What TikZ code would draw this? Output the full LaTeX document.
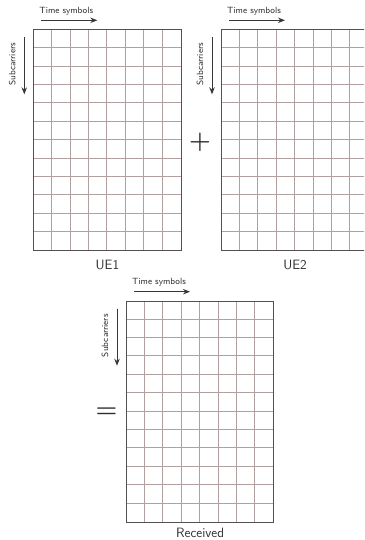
\documentclass[tikz,border=0pt]{standalone}
\usepackage{fontspec}
\usetikzlibrary{arrows.meta}
\definecolor{gridln}{RGB}{178,160,160}
\definecolor{gridbd}{RGB}{85,80,80}
\definecolor{arrowc}{RGB}{55,55,55}
\definecolor{txtc}{RGB}{45,45,45}
\tikzset{
  x=1pt,y=1pt,
  gridbox/.style={draw=gridbd,line width=1pt,minimum width=147.2pt,minimum height=220.8pt,inner sep=0pt,anchor=north west},
  innerln/.style={draw=gridln,line width=1pt},
  axisarrow/.style={draw=arrowc,line width=1pt,-{Stealth[length=7pt,width=5.5pt]}},
  smalltxt/.style={font=\sffamily\fontsize{9}{10}\selectfont,text=txtc,inner sep=0pt},
  captxt/.style={font=\sffamily\fontsize{13.5}{15}\selectfont,text=txtc,inner sep=0pt},
  optxt/.style={font=\fontsize{26}{28}\selectfont\boldmath,text=txtc,inner sep=0pt}
}
\begin{document}
\begin{tikzpicture}
\useasboundingbox (0,0) rectangle (364,-540);
\clip (0,0) rectangle (364,-540);
% grids
\foreach \gx/\gy/\nm in {33.3/-29.3/g1, 221/-29.3/g2, 126/-300.7/g3}{
  \foreach \i in {1,...,7}{
    \draw[innerln] (\gx+\i*18.4,\gy) -- (\gx+\i*18.4,\gy-220.8);
  }
  \foreach \j in {1,...,11}{
    \draw[innerln] (\gx,\gy-\j*18.4) -- (\gx+147.2,\gy-\j*18.4);
  }
}
\node[gridbox] (g1) at (33.3,-29.3) {};
\node[gridbox] (g2) at (221,-29.3) {};
\node[gridbox] (g3) at (126,-300.7) {};
% axis labels
\foreach \g in {g1,g2,g3}{
  \coordinate (\g ta) at ([shift={(8,9)}]\g.north west);
  \coordinate (\g tb) at ([shift={(64,9)}]\g.north west);
  \draw[axisarrow] (\g ta) -- (\g tb);
  \node[smalltxt] (\g tl) at ([shift={(33,18)}]\g.north west) {Time symbols};
  \coordinate (\g sa) at ([shift={(-9,-8)}]\g.north west);
  \coordinate (\g sb) at ([shift={(-9,-65)}]\g.north west);
  \draw[axisarrow] (\g sa) -- (\g sb);
  \node[smalltxt,rotate=90] (\g sl) at ([shift={(-21,-35)}]\g.north west) {Subcarriers};
}
\node[captxt] (c1) at ([yshift=-14]g1.south) {UE1};
\node[captxt] (c2) at ([yshift=-14]g2.south) {UE2};
\node[captxt] (c3) at ([yshift=-10.5]g3.south) {Received};
\node[optxt] (plus) at (200,-142.7) {$+$};
\node[optxt] (eq) at (106.5,-412.5) {$=$};
\end{tikzpicture}
\end{document}
